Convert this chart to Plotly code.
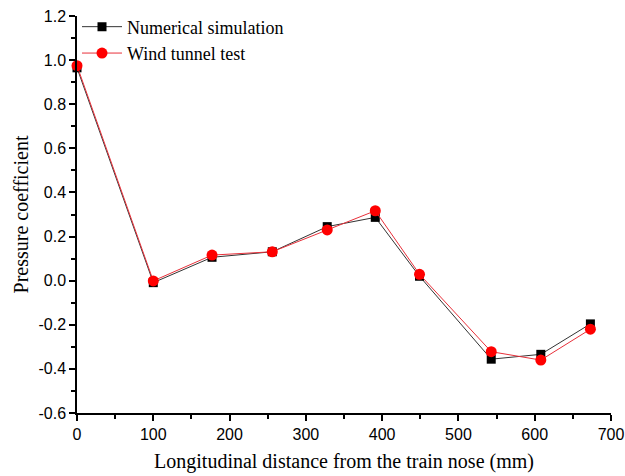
import plotly.graph_objects as go

x_num = [0, 100, 177, 256, 328, 391, 449, 543, 608, 673]
y_num = [0.965, -0.009, 0.106, 0.131, 0.245, 0.287, 0.02, -0.356, -0.334, -0.196]
x_wind = [0, 100, 177, 256, 328, 391, 449, 543, 608, 673]
y_wind = [0.975, -0.001, 0.116, 0.131, 0.23, 0.317, 0.029, -0.322, -0.36, -0.22]

x_ticks = [0, 100, 200, 300, 400, 500, 600, 700]
y_ticks = [-0.6, -0.4, -0.2, 0.0, 0.2, 0.4, 0.6, 0.8, 1.0, 1.2]

fig = go.Figure()
fig.add_trace(go.Scatter(
    x=x_num, y=y_num, mode="lines+markers", name="Numerical simulation",
    line=dict(color="#333333", width=1),
    marker=dict(symbol="square", size=9, color="black"),
    cliponaxis=False,
))
fig.add_trace(go.Scatter(
    x=x_wind, y=y_wind, mode="lines+markers", name="Wind tunnel test",
    line=dict(color="#e8303a", width=1),
    marker=dict(symbol="circle", size=11, color="#ff0000"),
    cliponaxis=False,
))

axis_common = dict(
    showgrid=False, zeroline=False, showline=True, linecolor="black", linewidth=1.5,
    ticks="outside", ticklen=6, tickwidth=1.5, tickcolor="black",
    tickfont=dict(family="Liberation Sans, Arial", size=16, color="black"),
    minor=dict(ticks="outside", ticklen=4, tickwidth=1.5, tickcolor="black"),
    automargin=False,
)

fig.update_layout(
    width=625, height=476,
    margin=dict(l=77, r=14, t=16, b=63, autoexpand=False),
    paper_bgcolor="white", plot_bgcolor="white",
    showlegend=True,
    legend=dict(
        x=0.0, y=1.019, xanchor="left", yanchor="top",
        bgcolor="rgba(0,0,0,0)",
        font=dict(family="Liberation Serif, Times New Roman", size=18, color="black"),
        tracegroupgap=0, itemwidth=40,
    ),
    xaxis=dict(
        range=[0, 700], tickvals=x_ticks, ticktext=[str(v) for v in x_ticks],
        title=dict(text="Longitudinal distance from the train nose (mm)",
                   font=dict(family="Liberation Serif, Times New Roman", size=20, color="black"),
                   standoff=12),
        minor_dtick=50,
        **axis_common,
    ),
    yaxis=dict(
        range=[-0.6, 1.2], tickvals=y_ticks, ticktext=[f"{v:.1f}" for v in y_ticks],
        title=dict(text="Pressure coefficient",
                   font=dict(family="Liberation Serif, Times New Roman", size=20, color="black"),
                   standoff=4),
        minor_dtick=0.1,
        **axis_common,
    ),
)

fig.write_html("out.html")
